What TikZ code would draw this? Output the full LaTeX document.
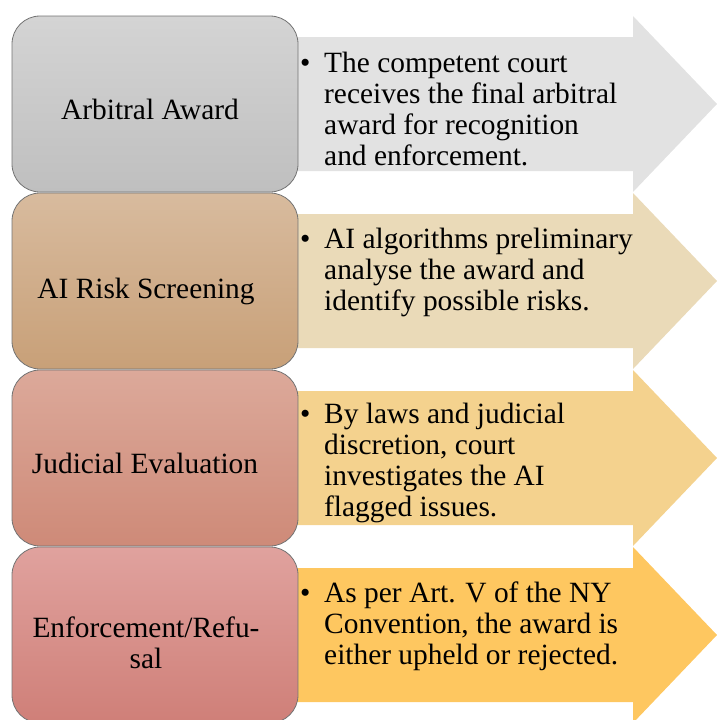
\documentclass[tikz,border=0pt]{standalone}
\usepackage{fontspec}
\setmainfont{Liberation Serif}
\definecolor{ra1t}{HTML}{D4D4D4}
\definecolor{ra1b}{HTML}{BFBFBF}
\definecolor{ar1}{HTML}{E2E2E2}
\definecolor{ra2t}{HTML}{D8BB9E}
\definecolor{ra2b}{HTML}{C8A078}
\definecolor{ar2}{HTML}{EADAB8}
\definecolor{ra3t}{HTML}{DCA99A}
\definecolor{ra3b}{HTML}{CE8A78}
\definecolor{ar3}{HTML}{F4D28E}
\definecolor{ra4t}{HTML}{E0A29E}
\definecolor{ra4b}{HTML}{CF7F78}
\definecolor{ar4}{HTML}{FEC760}
\begin{document}
\begin{tikzpicture}[x=1pt,y=-1pt,
  stage/.style={draw=black!55, line width=0.8pt, rounded corners=28pt,
    minimum width=286pt, minimum height=176pt, inner sep=0pt},
  stagelabel/.style={font=\fontsize{29.4}{31}\selectfont, inner sep=0pt, anchor=base},
  desc/.style={font=\fontsize{29.4}{31}\selectfont, inner sep=0pt, anchor=base west}]
\clip (0,0) rectangle (717,720);
% arrows
\foreach \T/\c in {16/ar1,193/ar2,370/ar3,547/ar4}{
  \fill[\c] (290,\T+21) -- (633,\T+21) -- (633,\T) -- (717,\T+88)
     -- (633,\T+176) -- (633,\T+155) -- (290,\T+155) -- cycle;
}
% stages
\node[stage, top color=ra1t, bottom color=ra1b] (s1) at (155,104) {};
\node[stage, top color=ra2t, bottom color=ra2b] (s2) at (155,281) {};
\node[stage, top color=ra3t, bottom color=ra3b] (s3) at (155,458) {};
\node[stage, top color=ra4t, bottom color=ra4b] (s4) at (155,635) {};
\node[stagelabel] (l1) at (150,119) {Arbitral Award};
\node[stagelabel] (l2) at (146,298) {AI Risk Screening};
\node[stagelabel] (l3) at (145,473) {Judicial Evaluation};
\node[stagelabel] (l4) at (146,637) {\begin{tabular}[t]{@{}c@{}}Enforcement/Refu-\\sal\end{tabular}};
% descriptions
\node[desc] (d1) at (300,72) {\begin{tabular}[t]{@{}l@{}l@{}}\makebox[24pt][l]{\textbullet}&The competent court\\
 &receives the final arbitral\\ &award for recognition\\ &and enforcement.\end{tabular}};
\node[desc] (d2) at (300,248) {\begin{tabular}[t]{@{}l@{}l@{}}\makebox[24pt][l]{\textbullet}&AI algorithms preliminary\\
 &analyse the award and\\ &identify possible risks.\end{tabular}};
\node[desc] (d3) at (300,423) {\begin{tabular}[t]{@{}l@{}l@{}}\makebox[24pt][l]{\textbullet}&By laws and judicial\\
 &discretion, court\\ &investigates the AI\\ &flagged issues.\end{tabular}};
\node[desc] (d4) at (300,602) {\begin{tabular}[t]{@{}l@{}l@{}}\makebox[24pt][l]{\textbullet}&As per Art. V of the NY\\
 &Convention, the award is\\ &either upheld or rejected.\end{tabular}};
\end{tikzpicture}
\end{document}
